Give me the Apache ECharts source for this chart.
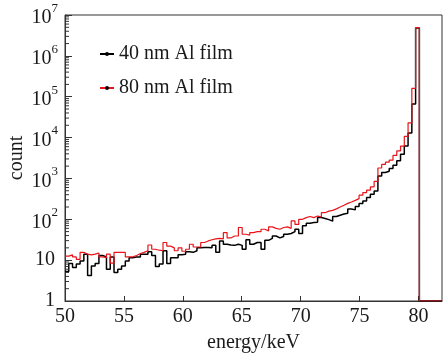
<!DOCTYPE html>
<html>
<head>
<meta charset="utf-8">
<script src="https://cdn.jsdelivr.net/npm/echarts@6/dist/echarts.min.js"></script>
<style>
  html, body { margin: 0; padding: 0; background: #fff; }
  #chart { width: 443px; height: 353px; }
</style>
</head>
<body>
<div id="chart"></div>
<script>
// histogram binning: 100 bins of 0.32 keV from 50 keV
const binStart = 50
const binWidth = 0.32
const seriesNames = ['40 nm Al film', '80 nm Al film']

// counts per bin, 40 nm film (black)
const counts40 = [
  5.3, 8.3, 6.6, 8, 9.5, 14, 4.2, 7.2, 8.3, 13, 12, 6, 12, 5, 6, 7.2,
  9.5, 11.5, 12, 12, 14, 14, 16, 13, 7, 8, 17, 8.3, 11.5, 11.5, 13.5, 14,
  16, 15.5, 17, 20, 20.5, 20.5, 20, 23, 15.5, 29.5, 24.5, 23.5, 23, 24.5, 23, 18.5,
  31.5, 24.5, 27, 27, 18.5, 30.5, 34, 39, 35, 38, 43, 45, 50, 57, 45, 69,
  80, 83, 85, 110, 105, 98, 90, 117, 126, 135, 140, 178, 170, 205, 245, 280,
  340, 410, 490, 1150, 1400, 1500, 1750, 2100, 2700, 3900, 6200, 13000, 66000, 4800000, 0, 0,
  0, 0, 0, 0,
]

// counts per bin, 80 nm film (red)
const counts80 = [
  12.5, 13.5, 12, 10.5, 15.5, 14, 13.5, 14, 15, 12, 11.5, 14, 8.5, 15.5, 15.5, 15.5,
  12, 12, 13, 14.5, 15.5, 17, 23.5, 18.5, 17.5, 17, 27, 22, 20, 17, 20, 16.5,
  18.5, 24.5, 21, 21, 27, 29.5, 31.5, 33, 34, 33, 47, 35, 39, 39, 63, 43,
  41, 47, 50, 50, 57, 52, 65, 60, 57, 63, 65, 60, 91, 75, 100, 110,
  117, 110, 120, 115, 145, 158, 165, 180, 200, 220, 245, 265, 290, 320, 390, 450,
  515, 620, 850, 1800, 2200, 2500, 2800, 3650, 4700, 6200, 10700, 23000, 160000, 4900000, 0, 0,
  0, 0, 0, 0,
]

const xTickInterval = 5
const yMin = 1
const yMax = 1e7
const minorMultipliers = [2, 3, 4, 5, 6, 7, 8, 9]
const decades = [1, 10, 100, 1e3, 1e4, 1e5, 1e6]

const font = '"Liberation Serif", "DejaVu Serif", serif'
const ink = '#1a1a1a'
const frame = '#333'

// step 'end' polyline through bin left edges, closed at the last right edge
function toSteps(counts) {
  const pts = counts.map((c, i) => [
    +(binStart + i * binWidth).toFixed(2),
    Math.max(c, yMin),
  ])
  const last = pts[pts.length - 1]
  pts.push([+(binStart + counts.length * binWidth).toFixed(2), last[1]])
  return pts
}

const minorTicks = []
decades.forEach((d) => minorMultipliers.forEach((m) => minorTicks.push([binStart, d * m])))

const chart = echarts.init(document.getElementById('chart'), null, { renderer: 'canvas' })

chart.setOption({
  animation: false,
  backgroundColor: '#fff',
  textStyle: { fontFamily: font, color: ink },
  grid: {
    left: 65,
    right: 1,
    top: 15,
    bottom: 52,
    outerBoundsMode: 'none',
    containLabel: false,
    show: true,
    borderColor: frame,
    borderWidth: 1,
    backgroundColor: 'transparent',
  },
  legend: {
    orient: 'vertical',
    left: 94,
    top: 39,
    itemWidth: 14,
    itemHeight: 5,
    itemGap: 14,
    textStyle: { fontFamily: font, fontSize: 20, color: ink, lineHeight: 20 },
    data: [
      { name: seriesNames[0], itemStyle: { color: '#000' } },
      { name: seriesNames[1], itemStyle: { color: '#000' } },
    ],
  },
  xAxis: {
    type: 'value',
    min: 50,
    max: 82,
    interval: xTickInterval,
    name: 'energy/keV',
    nameLocation: 'middle',
    nameGap: 32,
    nameMoveOverlap: false,
    nameTextStyle: { fontFamily: font, fontSize: 20, color: ink },
    axisLine: { lineStyle: { color: frame, width: 1 } },
    axisTick: { inside: true, length: 5, lineStyle: { color: frame } },
    axisLabel: {
      fontFamily: font,
      fontSize: 20,
      color: ink,
      margin: 6,
      showMaxLabel: false,
    },
    splitLine: { show: false },
  },
  yAxis: {
    type: 'log',
    logBase: 10,
    min: yMin,
    max: yMax,
    name: 'count',
    nameLocation: 'middle',
    nameGap: 38,
    nameMoveOverlap: false,
    nameTextStyle: { fontFamily: font, fontSize: 20, color: ink },
    axisLine: { lineStyle: { color: frame, width: 1 } },
    axisTick: { inside: true, length: 7, lineStyle: { color: frame } },
    axisLabel: {
      margin: 7,
      formatter: (v) => {
        const e = Math.round(Math.log10(v))
        if (e === 0) return '{p|1}'
        if (e === 1) return '{p|10}'
        return '{b|10}{s|' + e + '}'
      },
      rich: {
        p: { fontFamily: font, fontSize: 20, color: ink, padding: [0, 3, 0, 0] },
        b: { fontFamily: font, fontSize: 20, color: ink, lineHeight: 26, verticalAlign: 'bottom' },
        s: { fontFamily: font, fontSize: 13, color: ink, lineHeight: 26, verticalAlign: 'top' },
      },
    },
    splitLine: { show: false },
  },
  series: [
    {
      name: seriesNames[0],
      type: 'line',
      step: 'end',
      data: toSteps(counts40),
      symbol: 'circle',
      showSymbol: false,
      lineStyle: { color: '#000', width: 1.5 },
      itemStyle: { color: '#000' },
      z: 3,
    },
    {
      name: seriesNames[1],
      type: 'line',
      step: 'end',
      data: toSteps(counts80),
      symbol: 'circle',
      showSymbol: false,
      lineStyle: { color: '#e8141a', width: 1.2 },
      itemStyle: { color: '#e8141a' },
      z: 4,
    },
    {
      // log-spaced minor ticks on the y axis, drawn inside the frame
      type: 'custom',
      silent: true,
      clip: false,
      data: minorTicks,
      renderItem: (params, api) => {
        const p = api.coord([api.value(0), api.value(1)])
        return {
          type: 'line',
          shape: { x1: p[0], y1: p[1], x2: p[0] + 4, y2: p[1] },
          style: { stroke: frame, lineWidth: 1 },
        }
      },
      z: 5,
    },
  ],
})
</script>
</body>
</html>
